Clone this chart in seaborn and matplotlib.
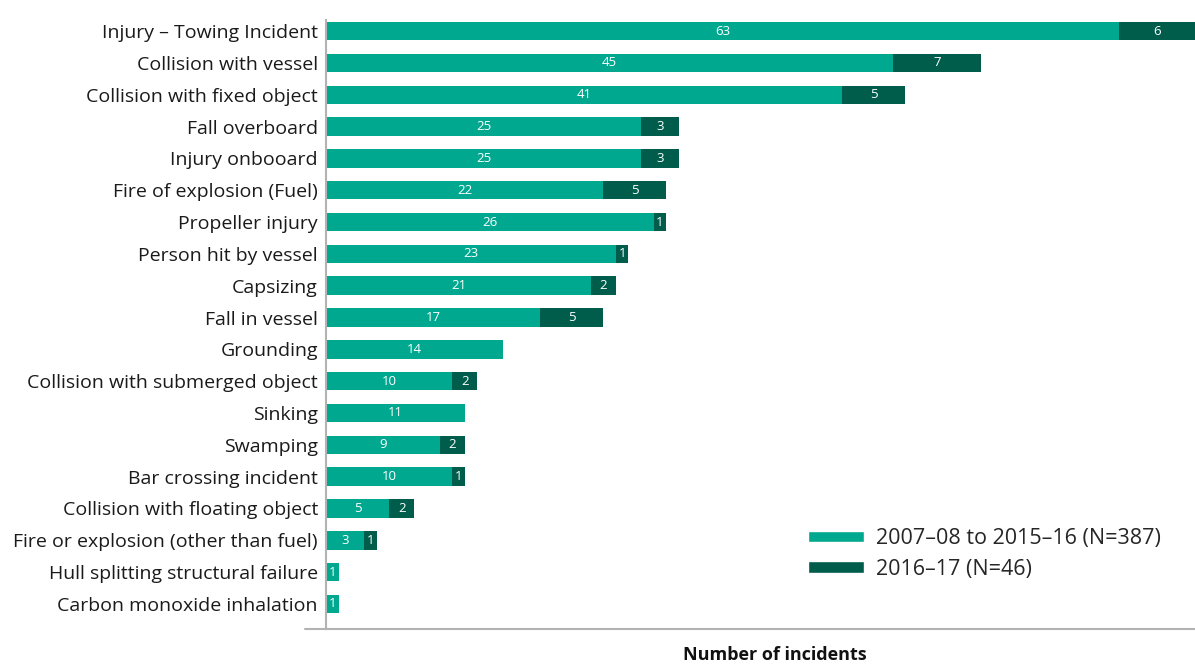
import matplotlib
matplotlib.use("Agg")
import matplotlib.pyplot as plt
import seaborn as sns
import pandas as pd
from matplotlib.patches import Patch

# Incident types, most frequent first
categories = [
    "Injury – Towing Incident",
    "Collision with vessel",
    "Collision with fixed object",
    "Fall overboard",
    "Injury onbooard",
    "Fire of explosion (Fuel)",
    "Propeller injury",
    "Person hit by vessel",
    "Capsizing",
    "Fall in vessel",
    "Grounding",
    "Collision with submerged object",
    "Sinking",
    "Swamping",
    "Bar crossing incident",
    "Collision with floating object",
    "Fire or explosion (other than fuel)",
    "Hull splitting structural failure",
    "Carbon monoxide inhalation",
]
earlier = [63, 45, 41, 25, 25, 22, 26, 23, 21, 17, 14, 10, 11, 9, 10, 5, 3, 1, 1]
recent = [6, 7, 5, 3, 3, 5, 1, 1, 2, 5, 0, 2, 0, 2, 1, 2, 1, 0, 0]
series_labels = ["2007–08 to 2015–16 (N=387)", "2016–17 (N=46)"]

light = "#00A88F"
dark = "#005C4B"

df = pd.DataFrame({"category": categories, "earlier": earlier, "recent": recent})
df["total"] = df["earlier"] + df["recent"]

sns.set_style("white")
plt.rcParams["font.family"] = ["Open Sans", "DejaVu Sans"]

fig = plt.figure(figsize=(11.95, 6.65), dpi=100)
ax = fig.add_axes([0.273, 0.054, 0.727, 0.916])

bar_w = 0.58
sns.barplot(data=df, y="category", x="total", color=dark, width=bar_w,
            saturation=1, orient="h", ax=ax, order=categories, linewidth=0)
sns.barplot(data=df, y="category", x="earlier", color=light, width=bar_w,
            saturation=1, orient="h", ax=ax, order=categories, linewidth=0)

for i, (a, b) in enumerate(zip(earlier, recent)):
    ax.text(a / 2, i, str(a), ha="center", va="center", color="white", fontsize=9.5)
    if b > 0:
        ax.text(a + b / 2, i, str(b), ha="center", va="center", color="white", fontsize=9.5)

ax.set_xlim(0, 69)
ax.set_ylim(18.79, -0.35)
ax.set_xlabel("")
ax.set_ylabel("")
ax.set_xticks([])
ax.tick_params(axis="y", length=0, pad=6, labelsize=14, labelcolor="#1a1a1a")

for side in ["top", "right", "bottom"]:
    ax.spines[side].set_visible(False)
ax.spines["left"].set_color("#b3b3b3")
ax.spines["left"].set_linewidth(1.5)
ax.plot([-0.025, 1.0], [0, 0], transform=ax.transAxes, clip_on=False,
        color="#b3b3b3", lw=1.5)

fig.text(0.648, 0.002, "Number of incidents", ha="center", va="bottom",
         fontsize=13, fontweight="bold", color="#111111")

handles = [Patch(facecolor=light, label=series_labels[0]),
           Patch(facecolor=dark, label=series_labels[1])]
ax.legend(handles=handles, loc="upper left", bbox_to_anchor=(0.66, 0.235),
          bbox_transform=fig.transFigure, frameon=False, fontsize=15.5,
          handlelength=2.6, handleheight=0.45, handletextpad=0.55, labelspacing=0.45)

fig.savefig("out.png", dpi=100)
